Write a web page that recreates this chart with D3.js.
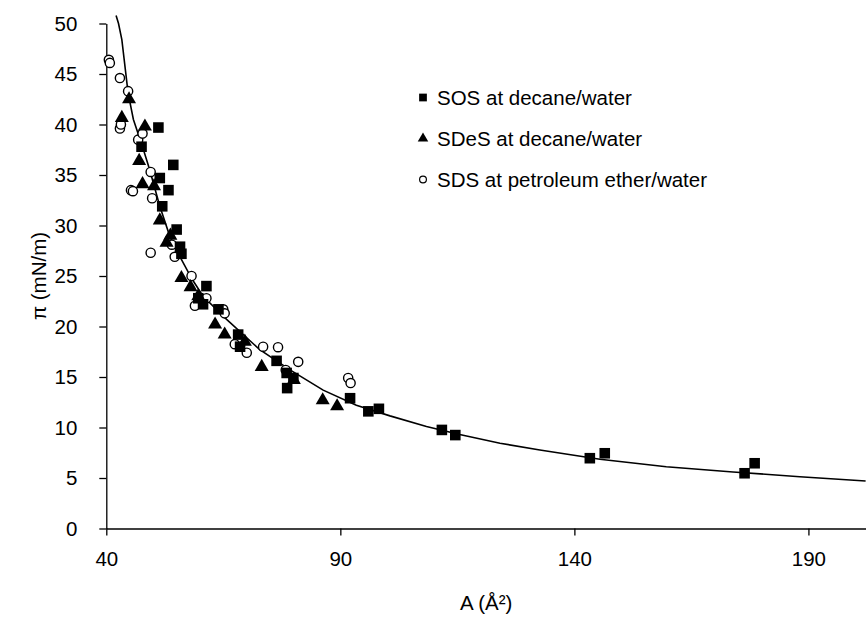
<!DOCTYPE html>
<html>
<head>
<meta charset="utf-8">
<script src="https://cdn.jsdelivr.net/npm/d3@7/dist/d3.min.js"></script>
<style>
  body { margin: 0; background: #fff; }
  svg text { font-family: "Liberation Sans", Arial, sans-serif; fill: #000; }
</style>
</head>
<body>
<svg id="chart" width="866" height="624"></svg>
<script>
// Surface pressure isotherms: pi vs. area per molecule
const xTicks = [40, 90, 140, 190];
const yTicks = [0, 5, 10, 15, 20, 25, 30, 35, 40, 45, 50];

// SOS at decane/water
const sosArea = [47.53, 51.13, 54.31, 51.43, 53.28, 51.95, 55.03, 55.75, 56.05, 61.39, 59.65, 60.67, 63.96,
  68.17, 68.58, 76.38, 78.53, 78.64, 79.97, 92.08, 95.98, 98.24, 111.69, 114.56, 143.30, 146.49, 176.36, 178.51];
const sosPressure = [37.8, 39.7, 36.0, 34.7, 33.5, 31.9, 29.6, 27.9, 27.2, 24.0, 22.8, 22.2, 21.7,
  19.2, 18.0, 16.6, 15.4, 13.9, 14.9, 12.9, 11.6, 11.85, 9.76, 9.25, 6.96, 7.45, 5.47, 6.46];

// SDeS at decane/water
const sdesArea = [44.86, 43.32, 48.25, 47.02, 47.74, 50.20, 51.43, 52.87, 53.69, 56.05, 58.00, 59.65, 63.24,
  65.29, 69.60, 73.20, 80.07, 86.23, 89.31];
const sdesPressure = [42.5, 40.65, 39.8, 36.4, 34.1, 33.9, 30.5, 28.3, 29.0, 24.8, 23.9, 23.0, 20.2,
  19.2, 18.5, 16.0, 14.7, 12.7, 12.1];

// SDS at petroleum ether/water
const sdsArea = [40.55, 40.76, 42.91, 44.66, 42.91, 43.12, 46.81, 47.74, 45.27, 45.69, 49.48, 49.79, 49.48,
  54.00, 54.62, 58.21, 58.93, 61.39, 64.98, 65.29, 67.45, 70.01, 73.50, 76.69, 78.33, 81.00, 91.67, 92.19];
const sdsPressure = [46.4, 46.1, 44.6, 43.3, 39.6, 40.0, 38.5, 39.1, 33.5, 33.4, 35.3, 32.7, 27.3,
  28.1, 26.9, 25.0, 22.05, 22.8, 21.7, 21.3, 18.25, 17.4, 18.0, 17.95, 15.7, 16.5, 14.9, 14.4];

// Fitted isotherm
const fitArea = [42.09, 42.61, 43.32, 44.66, 45.79, 47.94, 49.28, 51.43, 53.59, 55.75, 58.31, 60.67, 65.70,
  72.79, 79.25, 86.33, 93.42, 100.60, 108.40, 115.49, 124.11, 132.63, 145.46, 159.63, 173.89, 188.16, 202.22];
const fitPressure = [50.8, 50.0, 48.4, 43.1, 40.5, 37.5, 35.5, 31.9, 28.9, 26.9, 24.7, 23.0, 20.7,
  17.7, 15.7, 13.7, 12.2, 11.15, 10.1, 9.3, 8.44, 7.78, 6.86, 6.12, 5.6, 5.13, 4.7];

const legendLabels = ["SOS at decane/water", "SDeS at decane/water", "SDS at petroleum ether/water"];

const svg = d3.select("#chart");
const plotLeft = 106.3, plotRight = 866, plotTop = 23.5, plotBottom = 528.5;
const fontSize = 20.5;

const x = d3.scaleLinear().domain([40, 202.3]).range([plotLeft, plotRight]);
const y = d3.scaleLinear().domain([0, 50]).range([plotBottom, plotTop]);

// Axes
const xAxis = d3.axisBottom(x).tickValues(xTicks).tickSize(7).tickSizeOuter(0).tickPadding(16);
const yAxis = d3.axisLeft(y).tickValues(yTicks).tickSize(7).tickSizeOuter(0).tickPadding(22);

const gx = svg.append("g").attr("transform", `translate(0,${plotBottom})`).call(xAxis);
const gy = svg.append("g").attr("transform", `translate(${plotLeft},0)`).call(yAxis);
[gx, gy].forEach(g => {
  g.selectAll("path, line").attr("stroke", "#000").attr("stroke-width", 1.3);
  g.selectAll("text").attr("font-size", fontSize).attr("font-family", "Liberation Sans, Arial, sans-serif");
});

// Axis titles
svg.append("text")
  .attr("x", (plotLeft + plotRight) / 2).attr("y", 610)
  .attr("text-anchor", "middle").attr("font-size", fontSize)
  .text("A (Å²)");
svg.append("text")
  .attr("transform", `translate(46,${(plotTop + plotBottom) / 2}) rotate(-90)`)
  .attr("text-anchor", "middle").attr("font-size", fontSize)
  .text("π (mN/m)");

// Fit line
const fitPts = fitArea.map((a, i) => [a, fitPressure[i]]);
svg.append("clipPath").attr("id", "clip")
  .append("rect").attr("x", plotLeft).attr("y", 0).attr("width", plotRight - plotLeft).attr("height", plotBottom);
svg.append("path")
  .datum(fitPts)
  .attr("clip-path", "url(#clip)")
  .attr("fill", "none").attr("stroke", "#000").attr("stroke-width", 1.6)
  .attr("d", d3.line().x(d => x(d[0])).y(d => y(d[1])));

// Markers
const sq = d3.symbol().type(d3.symbolSquare).size(112);
const tri = d3.symbol().type(d3.symbolTriangle).size(85);

svg.append("g").selectAll("circle")
  .data(sdsArea.map((a, i) => [a, sdsPressure[i]]))
  .join("circle")
  .attr("cx", d => x(d[0])).attr("cy", d => y(d[1])).attr("r", 4.6)
  .attr("fill", "#fff").attr("stroke", "#000").attr("stroke-width", 1.4);

svg.append("g").selectAll("path")
  .data(sdesArea.map((a, i) => [a, sdesPressure[i]]))
  .join("path")
  .attr("d", tri)
  .attr("transform", d => `translate(${x(d[0])},${y(d[1])})`)
  .attr("fill", "#000");

svg.append("g").selectAll("path")
  .data(sosArea.map((a, i) => [a, sosPressure[i]]))
  .join("path")
  .attr("d", sq)
  .attr("transform", d => `translate(${x(d[0])},${y(d[1])})`)
  .attr("fill", "#000");

// Legend
const legend = svg.append("g");
const legendY = [97.5, 138.5, 179.5];
legend.append("path").attr("d", d3.symbol().type(d3.symbolSquare).size(60))
  .attr("transform", `translate(423,${legendY[0]})`).attr("fill", "#000");
legend.append("path").attr("d", d3.symbol().type(d3.symbolTriangle).size(48))
  .attr("transform", `translate(423,${legendY[1]})`).attr("fill", "#000");
legend.append("circle").attr("cx", 423).attr("cy", legendY[2]).attr("r", 3.4)
  .attr("fill", "#fff").attr("stroke", "#000").attr("stroke-width", 1.2);
legend.selectAll("text")
  .data(legendLabels)
  .join("text")
  .attr("x", 437).attr("y", (d, i) => legendY[i] + 7.5)
  .attr("font-size", fontSize)
  .text(d => d);
</script>
</body>
</html>
